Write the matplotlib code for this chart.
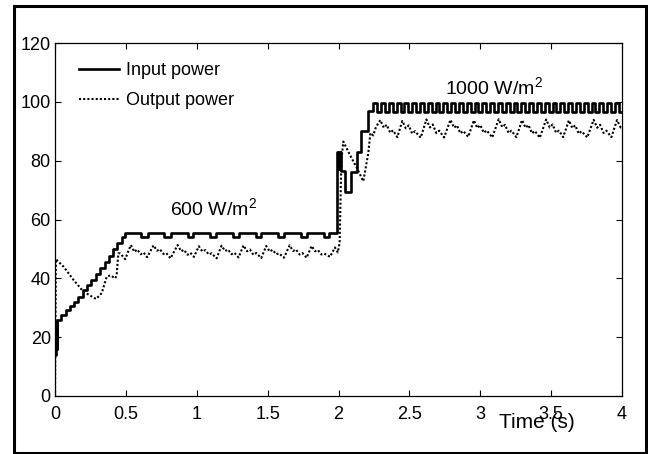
import matplotlib
matplotlib.use('Agg')
import matplotlib.pyplot as plt
import numpy as np
from matplotlib.patches import Rectangle

plt.rcParams['font.family'] = ['Liberation Sans', 'DejaVu Sans']
plt.rcParams['mathtext.fontset'] = 'custom'
plt.rcParams['mathtext.rm'] = 'Liberation Sans'
plt.rcParams['mathtext.it'] = 'Liberation Sans:italic'
plt.rcParams['mathtext.bf'] = 'Liberation Sans:bold'

# ---------------- data ----------------
x_ticks = [0, 0.5, 1, 1.5, 2, 2.5, 3, 3.5, 4]
x_tick_labels = ['0', '0.5', '1', '1.5', '2', '2.5', '3', '3.5', '4']
y_ticks = [0, 20, 40, 60, 80, 100, 120]
y_tick_labels = ['0', '20', '40', '60', '80', '100', '120']

# Input power: step changes (time, level)
input_t_start = [0.0, 0.004, 0.007, 0.010, 0.013, 0.016, 0.045, 0.075, 0.105,
                 0.135, 0.165, 0.195, 0.225, 0.255, 0.290, 0.320, 0.350, 0.380,
                 0.410, 0.440, 0.470, 0.495,
                 0.610, 0.655, 0.770, 0.815, 0.935, 0.975, 1.095, 1.135,
                 1.255, 1.295, 1.415, 1.455, 1.575, 1.615, 1.735, 1.775,
                 1.895, 1.935,
                 1.990, 1.996, 2.002, 2.008, 2.014, 2.020, 2.046, 2.086,
                 2.133, 2.160, 2.210]
input_p_start = [14.0, 25.0, 15.0, 25.0, 16.0, 25.8, 27.6, 29.3, 30.6,
                 32.0, 33.7, 36.0, 37.8, 39.5, 41.5, 43.5, 45.6, 47.6,
                 50.0, 52.0, 54.0, 55.4,
                 54.2, 55.4, 54.2, 55.4, 54.2, 55.4, 54.2, 55.4,
                 54.2, 55.4, 54.2, 55.4, 54.2, 55.4, 54.2, 55.4,
                 54.2, 55.4,
                 83.0, 77.0, 83.0, 77.0, 83.0, 76.5, 69.4, 76.0,
                 83.0, 90.0, 97.0]
# Input power ripple at 1000 W/m2 (level at each half-period sample)
input_ripple_p = [99.7, 96.5, 99.7, 96.5, 99.7, 96.5, 99.7, 96.5, 99.7, 96.5,
                  99.7, 96.5, 99.7, 96.5, 99.7, 96.5, 99.7, 96.5, 99.7, 96.5,
                  99.7, 96.5, 99.7, 96.5, 99.7, 96.5, 99.7, 96.5, 99.7, 96.5,
                  99.7, 96.5, 99.7, 96.5, 99.7, 96.5, 99.7, 96.5, 99.7, 96.5,
                  99.7, 96.5, 99.7, 96.5, 99.7, 96.5, 99.7, 96.5, 99.7, 96.5,
                  99.7, 96.5, 99.7, 96.5, 99.7, 96.5, 99.7, 96.5, 99.7, 96.5,
                  99.7, 96.5, 99.7, 96.5]
ripple_start = 2.245
ripple_half_period = 0.0275

# Output power (time, value)
output_t = [0.0, 0.006, 0.06, 0.13, 0.20, 0.26, 0.29, 0.33, 0.365, 0.39, 0.425,
            0.435, 0.447, 0.46, 0.495,
            0.535, 0.56, 0.58, 0.605, 0.625, 0.65,
            0.695, 0.72, 0.74, 0.765, 0.785, 0.815,
            0.865, 0.89, 0.91, 0.935, 0.955, 0.98,
            1.015, 1.04, 1.06, 1.085, 1.105, 1.14,
            1.175, 1.20, 1.22, 1.245, 1.265, 1.295,
            1.33, 1.355, 1.375, 1.40, 1.42, 1.455,
            1.49, 1.515, 1.535, 1.56, 1.58, 1.615,
            1.655, 1.68, 1.70, 1.725, 1.745, 1.775,
            1.81, 1.835, 1.855, 1.88, 1.90, 1.94,
            1.975, 1.995, 2.008, 2.02, 2.034, 2.08, 2.13, 2.175, 2.19, 2.21,
            2.225, 2.245, 2.265,
            2.295, 2.32, 2.34, 2.365, 2.385, 2.415,
            2.45, 2.475, 2.495, 2.52, 2.54, 2.58,
            2.62, 2.645, 2.665, 2.69, 2.71, 2.745,
            2.79, 2.815, 2.835, 2.86, 2.88, 2.915,
            2.955, 2.98, 3.0, 3.025, 3.045, 3.085,
            3.13, 3.155, 3.175, 3.20, 3.22, 3.255,
            3.295, 3.32, 3.34, 3.365, 3.385, 3.42,
            3.465, 3.49, 3.51, 3.535, 3.555, 3.585,
            3.625, 3.65, 3.67, 3.695, 3.715, 3.755,
            3.80, 3.825, 3.845, 3.87, 3.89, 3.925,
            3.965, 3.99, 4.0]
output_p = [0.0, 46.5, 44.0, 39.5, 35.5, 33.8, 33.0, 35.0, 40.6, 41.0, 40.0,
            41.0, 48.5, 48.5, 46.5,
            51.3, 49.0, 49.8, 48.2, 48.8, 47.2,
            51.2, 49.4, 49.9, 48.3, 48.6, 46.8,
            51.3, 49.2, 49.7, 48.0, 48.7, 47.3,
            50.9, 49.1, 49.6, 48.1, 48.5, 46.8,
            51.1, 49.3, 49.8, 48.2, 48.7, 47.1,
            51.2, 49.2, 49.8, 48.0, 48.6, 46.9,
            51.0, 49.1, 49.7, 48.2, 48.5, 47.0,
            51.2, 49.3, 49.8, 48.1, 48.6, 47.0,
            51.0, 49.2, 49.6, 48.1, 48.4, 47.3,
            50.5, 48.8, 52.0, 80.0, 86.5, 82.0, 77.5, 73.0, 77.0, 82.5,
            89.4, 88.6, 91.5,
            93.8, 91.2, 92.2, 89.5, 90.3, 88.0,
            93.5, 91.0, 92.0, 89.2, 90.0, 87.8,
            94.0, 91.3, 92.3, 89.4, 90.2, 87.9,
            93.9, 91.2, 92.0, 89.3, 90.1, 88.1,
            93.7, 91.1, 92.1, 89.5, 90.3, 87.9,
            94.1, 91.4, 92.2, 89.4, 90.2, 88.0,
            93.8, 91.2, 92.1, 89.3, 90.1, 87.8,
            94.0, 91.3, 92.3, 89.5, 90.2, 88.0,
            93.7, 91.1, 92.0, 89.2, 90.0, 87.9,
            93.9, 91.2, 92.2, 89.4, 90.2, 88.0,
            93.8, 91.3, 91.8]

labels = ['Input power', 'Output power']
annot_600 = '600 W/m$^{2}$'
annot_1000 = '1000 W/m$^{2}$'
x_label = 'Time (s)'

# build input series
ripple_t = list(ripple_start + ripple_half_period * np.arange(len(input_ripple_p)))
input_t = input_t_start + ripple_t + [4.0]
input_p = input_p_start + input_ripple_p + [input_ripple_p[-1]]

# ---------------- figure ----------------
W, H = 648, 454
fig = plt.figure(figsize=(W / 100, H / 100), dpi=100)
ax = fig.add_axes([55 / W, 58 / H, 567 / W, 353 / H])

ax.plot(input_t, input_p, drawstyle='steps-post', color='black', lw=1.9,
        label=labels[0])
ax.plot(output_t, output_p, color='black', lw=1.5, ls=(0, (1, 1)),
        label=labels[1])

ax.set_xlim(0, 4)
ax.set_ylim(0, 120)
ax.set_xticks(x_ticks)
ax.set_xticklabels(x_tick_labels)
ax.set_yticks(y_ticks)
ax.set_yticklabels(y_tick_labels)
ax.tick_params(direction='in', top=True, right=True, length=4.5, width=0.8,
               labelsize=13, colors='black')
ax.tick_params(axis='x', pad=7)
ax.tick_params(axis='y', pad=3)
for s in ax.spines.values():
    s.set_linewidth(0.9)

ax.legend(loc='upper left', bbox_to_anchor=(0.042, 0.945), frameon=False,
          fontsize=13, handlelength=2.2, handletextpad=0.4,
          labelspacing=0.7, borderaxespad=0, borderpad=0)

ax.text(1.12, 64, annot_600, ha='center', va='center', fontsize=14)
ax.text(3.10, 105, annot_1000, ha='center', va='center', fontsize=14)

fig.text(537 / W, 1 - 422 / H, x_label, ha='center', va='center', fontsize=15)

fig.patches.append(Rectangle((13.5 / W, 1.5 / H), (645.5 - 13.5) / W,
                             (452.5 - 5.5) / H, transform=fig.transFigure,
                             fill=False, edgecolor='black', lw=2.2))

fig.savefig('out.png', dpi=100)
